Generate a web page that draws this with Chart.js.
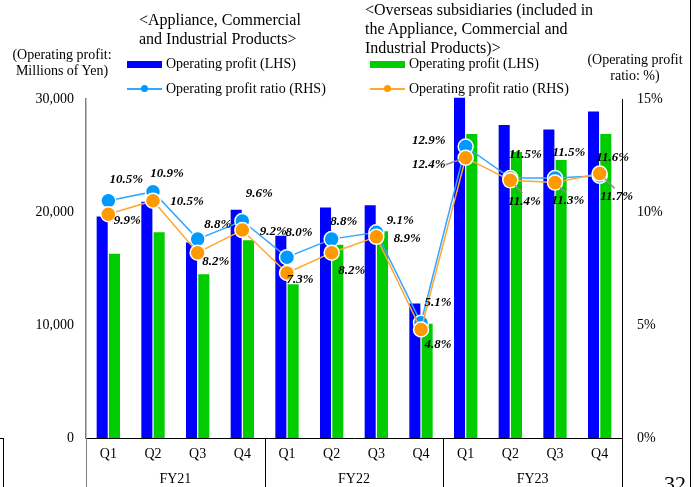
<!DOCTYPE html>
<html>
<head>
<meta charset="utf-8">
<script src="https://cdn.jsdelivr.net/npm/chart.js@4"></script>
<style>
  body { margin: 0; background: #fff; }
  #wrap { position: relative; width: 695px; height: 487px; overflow: hidden; font-family: 'Liberation Serif', 'Times New Roman', serif; color: #000; }
  #wrap canvas { position: absolute; left: 0; top: 0; }
  .txt { position: absolute; white-space: nowrap; font-size: 14px; line-height: 16px; }
  .head { position: absolute; white-space: nowrap; font-size: 16px; line-height: 19px; }
  .swatch { position: absolute; width: 35px; height: 7px; }
  .lineKey { position: absolute; width: 35px; height: 1.5px; }
  .lineKey span { position: absolute; left: 14px; top: -3px; width: 7px; height: 7px; border-radius: 50%; }
</style>
</head>
<body>
<div id="wrap">
  <canvas id="opProfit" width="695" height="487"></canvas>

  <div class="txt" style="left:9px; top:47px; text-align:center; width:106px;">(Operating profit:<br>Millions of Yen)</div>

  <div class="head" style="left:139px; top:10px;">&lt;Appliance, Commercial<br>and Industrial Products&gt;</div>
  <div class="swatch" style="left:127px; top:61px; background:#0000ff;"></div>
  <div class="txt" style="left:166px; top:56px;">Operating profit (LHS)</div>
  <div class="lineKey" style="left:127px; top:88px; background:#33aaff;"><span style="background:#0099ff;"></span></div>
  <div class="txt" style="left:166px; top:81px;">Operating profit ratio (RHS)</div>

  <div class="head" style="left:365px; top:0px;">&lt;Overseas subsidiaries (included in<br>the Appliance, Commercial and<br>Industrial Products)&gt;</div>
  <div class="swatch" style="left:370px; top:61px; background:#00cc00;"></div>
  <div class="txt" style="left:409px; top:56px;">Operating profit (LHS)</div>
  <div class="lineKey" style="left:370px; top:88px; background:#ffaa33;"><span style="background:#ff9900;"></span></div>
  <div class="txt" style="left:409px; top:81px;">Operating profit ratio (RHS)</div>

  <div class="txt" style="left:583px; top:52px; text-align:center; width:104px;">(Operating profit<br>ratio: %)</div>

  <div style="position:absolute; left:0; top:438px; width:3px; height:60px; border-top:1px solid #000; border-right:1px solid #000;"></div>
  <div style="position:absolute; left:690px; top:0; width:1px; height:487px; background:#000;"></div>
  <div style="position:absolute; left:664px; top:472px; font-size:22px; line-height:24px;">32</div>
</div>

<script>
const quarters = ['Q1', 'Q2', 'Q3', 'Q4', 'Q1', 'Q2', 'Q3', 'Q4', 'Q1', 'Q2', 'Q3', 'Q4'];
const fiscalYears = ['FY21', 'FY22', 'FY23'];

// operating profit, millions of yen
const applianceProfit = [19600, 20900, 17300, 20200, 17900, 20400, 20600, 11900, 30100, 27700, 27300, 28900];
const overseasProfit = [16300, 18200, 14500, 17500, 13600, 17100, 18300, 10100, 26900, 25300, 24600, 26900];

// operating profit ratio, %
const applianceRatio = [10.5, 10.9, 8.8, 9.6, 8.0, 8.8, 9.1, 5.1, 12.9, 11.5, 11.5, 11.6];
const overseasRatio = [9.9, 10.5, 8.2, 9.2, 7.3, 8.2, 8.9, 4.8, 12.4, 11.4, 11.3, 11.7];

const profitTicks = [0, 10000, 20000, 30000];
const ratioTicks = [0, 5, 10, 15];

// where each ratio label sits relative to its point [dx, dy, leader line]
const applianceLabelPos = [
    [18, -21], [14, -18], [20, -14], [17, -27],
    [12, -25], [12, -17], [24, -12], [17, -20],
    [-37, -6], [15, -23], [14, -25], [13, -18]
];
const overseasLabelPos = [
    [19, 6], [34, 1], [18, 9], [31, 2],
    [13, 7], [20, 18], [31, 2], [17, 15],
    [-37, 7, true], [14, 21, true], [13, 18, true], [17, 23, true]
];

const serif = "'Liberation Serif', 'Times New Roman', serif";
Chart.defaults.font.family = serif;
Chart.defaults.color = '#000';

const ratioLabels = {
    id: 'ratioLabels',
    afterDatasetsDraw(chart) {
        const ctx = chart.ctx;
        const sets = [
            { index: 1, pos: applianceLabelPos },
            { index: 0, pos: overseasLabelPos }
        ];
        ctx.save();
        ctx.font = 'italic bold 13px ' + serif;
        ctx.textAlign = 'center';
        ctx.textBaseline = 'middle';
        sets.forEach(s => {
            const data = chart.data.datasets[s.index].data;
            chart.getDatasetMeta(s.index).data.forEach((pt, i) => {
                const [dx, dy, leader] = s.pos[i];
                const lx = pt.x + dx;
                const ly = pt.y + dy;
                if (leader) {
                    ctx.strokeStyle = '#8c8c8c';
                    ctx.lineWidth = 1.5;
                    ctx.beginPath();
                    if (dx < 0) {
                        ctx.moveTo(lx + 17, ly);
                        ctx.lineTo(pt.x - 6, pt.y + 2);
                    } else {
                        ctx.moveTo(pt.x + 5, pt.y + 5);
                        ctx.lineTo(lx - 2, ly - 8);
                    }
                    ctx.stroke();
                }
                ctx.fillStyle = '#000';
                ctx.fillText(data[i].toFixed(1) + '%', lx, ly);
            });
        });
        ctx.restore();
    }
};

// year grouping under the quarter labels, plus the axis lines running to the bottom
const yearAxis = {
    id: 'yearAxis',
    afterDraw(chart) {
        const ctx = chart.ctx;
        const area = chart.chartArea;
        const bottom = chart.height;
        const step = (area.right - area.left) / quarters.length;
        ctx.save();
        ctx.lineWidth = 1;
        for (let g = 0; g <= fiscalYears.length; g++) {
            const px = Math.round(area.left + g * 4 * step) + 0.5;
            ctx.strokeStyle = g === 0 ? '#808080' : '#000';
            ctx.beginPath();
            ctx.moveTo(px, area.bottom);
            ctx.lineTo(px, bottom);
            ctx.stroke();
        }
        ctx.font = '14px ' + serif;
        ctx.textAlign = 'center';
        ctx.textBaseline = 'middle';
        fiscalYears.forEach((fy, g) => {
            ctx.fillText(fy, area.left + (g * 4 + 2) * step, 479);
        });
        ctx.restore();
    }
};

new Chart(document.getElementById('opProfit'), {
    data: {
        labels: quarters,
        datasets: [
            {
                type: 'line',
                label: 'Operating profit ratio (RHS) overseas',
                data: overseasRatio,
                yAxisID: 'y1',
                borderColor: '#ffa733',
                backgroundColor: '#ff9900',
                borderWidth: 1.5,
                pointRadius: 7.5,
                pointBorderColor: '#ffffff',
                pointBorderWidth: 1.5,
                order: 0
            },
            {
                type: 'line',
                label: 'Operating profit ratio (RHS)',
                data: applianceRatio,
                yAxisID: 'y1',
                borderColor: '#33a6ff',
                backgroundColor: '#0099ff',
                borderWidth: 1.5,
                pointRadius: 7.5,
                pointBorderColor: '#ffffff',
                pointBorderWidth: 1.5,
                order: 1
            },
            {
                type: 'bar',
                label: 'Operating profit (LHS)',
                data: applianceProfit,
                backgroundColor: '#0000ff',
                barPercentage: 0.9,
                categoryPercentage: 0.55,
                clip: false,
                order: 2
            },
            {
                type: 'bar',
                label: 'Operating profit (LHS) overseas',
                data: overseasProfit,
                backgroundColor: '#00cc00',
                barPercentage: 0.9,
                categoryPercentage: 0.55,
                order: 3
            }
        ]
    },
    options: {
        responsive: false,
        animation: false,
        layout: { padding: { top: 99, left: 0, right: 0, bottom: 0 } },
        plugins: {
            legend: { display: false },
            tooltip: { enabled: false }
        },
        scales: {
            x: {
                grid: { display: false, drawTicks: false },
                border: { color: '#000', width: 1 },
                ticks: { padding: 8, font: { size: 14 } },
                afterFit: s => { s.height = 49; }
            },
            y: {
                position: 'left',
                min: 0,
                max: 30000,
                grid: { display: false, drawTicks: false },
                border: { color: '#808080', width: 1.5 },
                afterBuildTicks: s => { s.ticks = profitTicks.map(v => ({ value: v })); },
                ticks: {
                    padding: 12,
                    font: { size: 14 },
                    callback: v => v.toLocaleString('en-US')
                },
                afterFit: s => { s.width = 86; }
            },
            y1: {
                position: 'right',
                min: 0,
                max: 15,
                grid: { display: false, drawTicks: false },
                border: { color: '#000', width: 1 },
                afterBuildTicks: s => { s.ticks = ratioTicks.map(v => ({ value: v })); },
                ticks: {
                    padding: 15,
                    font: { size: 14 },
                    callback: v => v + '%'
                },
                afterFit: s => { s.width = 73; }
            }
        }
    },
    plugins: [ratioLabels, yearAxis]
});
</script>
</body>
</html>
